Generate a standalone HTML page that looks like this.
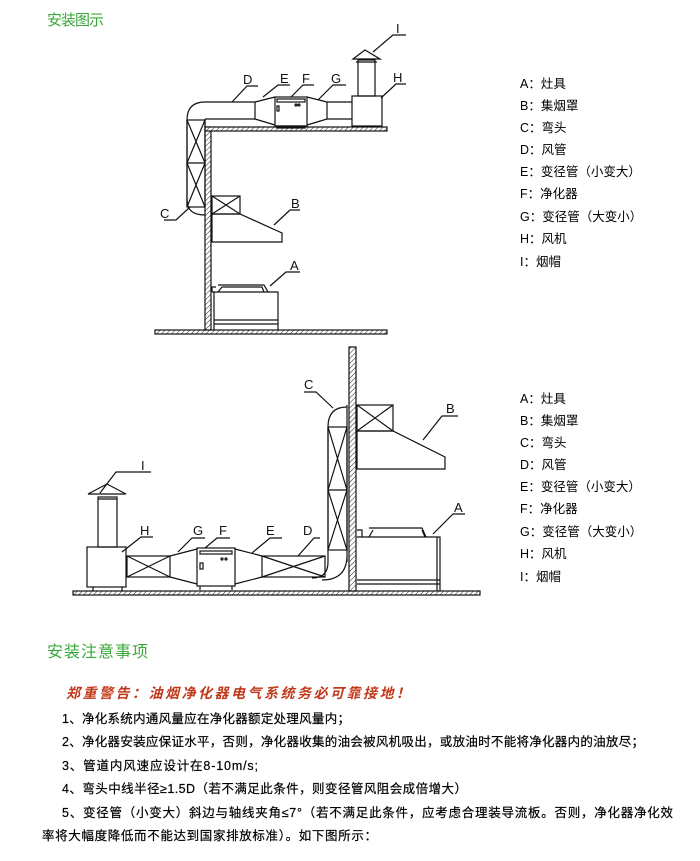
<!DOCTYPE html>
<html><head><meta charset="utf-8"><style>
html,body{margin:0;padding:0;background:#fff;}
svg{display:block;}
text{font-family:"Liberation Sans","Noto Sans CJK SC",sans-serif;}
</style></head><body>
<svg width="700" height="861" viewBox="0 0 700 861" xmlns="http://www.w3.org/2000/svg">
<defs>
<pattern id="h" width="3.5" height="3.5" patternUnits="userSpaceOnUse" patternTransform="rotate(45)">
<rect width="3.5" height="3.5" fill="#fff"/><line x1="0" y1="0" x2="0" y2="3.5" stroke="#222" stroke-width="1"/></pattern>
</defs>
<g fill="none" stroke="#111" stroke-width="1.2">
<!-- Diagram 1 -->
<rect x="155" y="330" width="232" height="4" fill="url(#h)"/>
<rect x="205" y="127" width="6" height="203" fill="url(#h)"/>
<rect x="205" y="127" width="182" height="4" fill="url(#h)"/>
<path d="M187,207 L187,120 Q187,102 205,102 L255,102 M205,119 L255,119 M205,119 L205,127"/>
<path d="M187,200 Q187,215 205,215"/>
<rect x="187" y="120" width="18" height="87"/>
<path d="M187,120 L205,163 M205,120 L187,163 M187,163 L205,207 M205,163 L187,207 M187,163 L205,163"/>
<path d="M255,102 L275,97 M255,119 L275,125 M255,102 L255,119"/>
<rect x="275" y="97" width="32" height="29" fill="#fff"/>
<rect x="277" y="99" width="28" height="3"/>
<rect x="277" y="106" width="2" height="5"/>
<circle cx="296" cy="105" r="1"/><circle cx="299" cy="105" r="1"/>
<rect x="277" y="126" width="28" height="2"/>
<path d="M307,97 L327,102 M307,125 L327,119 M327,102 L352,102 M327,119 L352,119 M327,102 L327,119"/>
<rect x="352" y="96" width="30" height="30" fill="#fff"/>
<rect x="358" y="60" width="17" height="36"/>
<path d="M353,59 L365,50 L380,59 Z M356,62 L377,62"/>
<rect x="212" y="196" width="28" height="18"/>
<path d="M212,196 L240,214 M240,196 L212,214"/>
<path d="M212,214 L240,214 L282,233 L282,242 L212,242 Z"/>
<path d="M212,292 L278,292 L278,330 M214,292 L214,330 M214,320 L278,320 M214,324 L278,324 M212,292 L212,287 L216,287 M218,285 L264,285 L268,292 M222,287 L262,287 L264,292 M222,287 L218,292 M268,292 L276,292"/>
<path d="M232,102 L247,86 L258,86 M263,97 L278,85 L290,85 M291,97 L303,85 L314,85 M318,100 L333,85 L346,85 M381,98 L396,84 L406,84 M373,52 L393,35 L406,35 M190,207 L176,220 L164,220 M274,225 L290,210 L300,210 M270,286 L286,272 L300,272"/>
<!-- Diagram 2 -->
<rect x="73" y="591" width="407" height="4" fill="url(#h)"/>
<rect x="349" y="347" width="7" height="244" fill="url(#h)"/>
<rect x="357" y="405" width="36" height="26"/>
<path d="M357,405 L393,431 M393,405 L357,431"/>
<path d="M357,431 L393,431 L445,457 L445,469 L357,469 Z"/>
<path d="M347,407 Q328,407 328,427 L328,562 M347,427 L347,562 M328,562 Q328,578 312,578 M347,555 Q347,580 322,580"/>
<rect x="328" y="427" width="19" height="123"/>
<path d="M328,427 L347,490 M347,427 L328,490 M328,490 L347,550 M347,490 L328,550 M328,490 L347,490 M347,405 L347,427"/>
<rect x="262" y="556" width="63" height="21"/>
<path d="M262,556 L325,577 M325,556 L262,577"/>
<path d="M262,556 L235,549 M262,577 L235,584"/>
<rect x="197" y="548" width="38" height="38" fill="#fff"/>
<rect x="200" y="551" width="32" height="3"/>
<rect x="200" y="563" width="3" height="6"/>
<circle cx="222" cy="559" r="1"/><circle cx="226" cy="559" r="1"/>
<path d="M200,586 L200,590 M232,586 L232,590"/>
<path d="M197,549 L170,556 M197,584 L170,577"/>
<rect x="127" y="556" width="43" height="21"/>
<path d="M127,556 L170,577 M170,556 L127,577"/>
<rect x="87" y="547" width="39" height="40" fill="#fff"/>
<rect x="98" y="497" width="19" height="50"/>
<path d="M88,494 L107,484 L126,494 Z M98,499 L117,499 M93,587 L93,591 M122,587 L122,591"/>
<path d="M357,537 L440,537 L440,591 M357,580 L440,580 M357,584 L440,584 M437,537 L437,591 M357,530 L362,530 L362,537 M369,528 L422,528 L426,537 M373,530 L369,537 M422,530 L425,537"/>
<path d="M333,408 L316,392 L304,392 M423,440 L442,416 L458,416 M100,493 L116,472 L151,472 M122,552 L141,537 L153,537 M178,552 L192,538 L205,538 M205,548 L217,538 L230,538 M252,553 L270,538 L282,538 M298,556 L314,538 L320,538 M433,534 L453,514 L465,514"/>
</g>
<g font-size="13" fill="#111">
<text x="243" y="84">D</text><text x="280" y="83">E</text><text x="302" y="83">F</text><text x="331" y="83">G</text><text x="393" y="82">H</text><text x="396" y="33">I</text>
<text x="160" y="218">C</text><text x="291" y="208">B</text><text x="290" y="270">A</text>
<text x="304" y="389">C</text><text x="446" y="413">B</text><text x="141" y="470">I</text><text x="140" y="535">H</text><text x="193" y="535">G</text><text x="219" y="535">F</text><text x="266" y="535">E</text><text x="303" y="535">D</text><text x="454" y="512">A</text>
</g>
<g font-size="12.5" fill="#000">
<text x="520" y="88">A：灶具</text><text x="520" y="110">B：集烟罩</text><text x="520" y="132">C：弯头</text><text x="520" y="154">D：风管</text><text x="520" y="176">E：变径管（小变大）</text><text x="520" y="198">F：净化器</text><text x="520" y="221">G：变径管（大变小）</text><text x="520" y="243">H：风机</text><text x="520" y="266">I：烟帽</text>
<text x="520" y="403">A：灶具</text><text x="520" y="425">B：集烟罩</text><text x="520" y="447">C：弯头</text><text x="520" y="469">D：风管</text><text x="520" y="491">E：变径管（小变大）</text><text x="520" y="513">F：净化器</text><text x="520" y="536">G：变径管（大变小）</text><text x="520" y="558">H：风机</text><text x="520" y="581">I：烟帽</text>
</g>
<text x="47" y="25" font-size="15" fill="#3aa83a" textLength="57">安装图示</text>
<text x="47" y="657" font-size="16" fill="#3aa83a" textLength="101">安装注意事项</text>
<text x="66" y="698" font-size="14" fill="#c0391b" font-style="italic" font-weight="bold" textLength="344" lengthAdjust="spacing">郑重警告：油烟净化器电气系统务必可靠接地！</text>
<g font-size="12.5" fill="#000" stroke="#000" stroke-width="0.2">
<text x="62" y="723" textLength="288">1、净化系统内通风量应在净化器额定处理风量内；</text>
<text x="62" y="746" textLength="582">2、净化器安装应保证水平，否则，净化器收集的油会被风机吸出，或放油时不能将净化器内的油放尽；</text>
<text x="62" y="770" textLength="196">3、管道内风速应设计在8-10m/s;</text>
<text x="62" y="793" textLength="405">4、弯头中线半径≥1.5D（若不满足此条件，则变径管风阻会成倍增大）</text>
<text x="62" y="817" textLength="611">5、变径管（小变大）斜边与轴线夹角≤7°（若不满足此条件，应考虑合理装导流板。否则，净化器净化效</text>
<text x="42" y="840" textLength="335">率将大幅度降低而不能达到国家排放标准）。如下图所示：</text>
</g>
</svg>
</body></html>
